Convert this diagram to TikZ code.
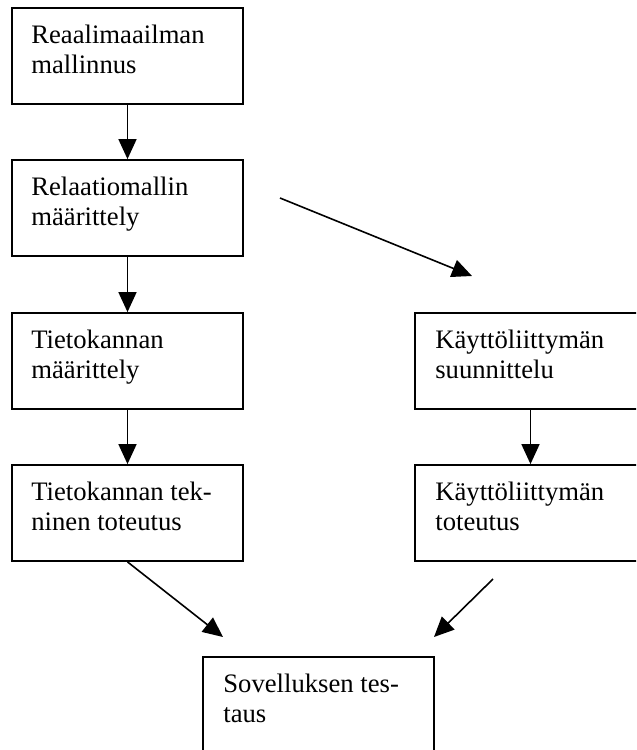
\documentclass[tikz,border=0pt]{standalone}
\usepackage{fontspec}
\setmainfont{Liberation Serif}
\usetikzlibrary{arrows.meta}

\begin{document}
\begin{tikzpicture}[x=0.75pt,y=-0.75pt,
  stagebox/.style={draw, line width=1.35pt, rectangle, inner sep=0pt,
    minimum width=173.25pt, minimum height=72pt},
  stagetext/.style={anchor=north west, inner sep=0pt, align=left,
    font=\fontsize{20pt}{22.5pt}\selectfont},
  flow/.style={line width=1.2pt, -{Triangle[length=15pt,width=13.5pt]}}]

  % page area; the right-hand boxes and the last box run past its edge
  \fill[white] (0,0) rectangle (636,750);
  \clip (0,0) rectangle (636,750);

  % stage boxes
  \node[stagebox] (b1) at (127.5,56) {};
  \node[stagebox] (b2) at (127.5,208) {};
  \node[stagebox] (b3) at (127.5,361) {};
  \node[stagebox] (b4) at (127.5,513) {};
  \node[stagebox] (b5) at (530.5,361) {};
  \node[stagebox] (b6) at (530.5,513) {};
  \node[stagebox] (b7) at (318.5,705) {};

  % box texts
  \node[stagetext] (t1) at ([shift={(20,18)}]b1.north west) {Reaalimaailman\\mallinnus};
  \node[stagetext] (t2) at ([shift={(20,18)}]b2.north west) {Relaatiomallin\\määrittely};
  \node[stagetext] (t3) at ([shift={(20,18)}]b3.north west) {Tietokannan\\määrittely};
  \node[stagetext] (t4) at ([shift={(20,18)}]b4.north west) {Tietokannan tek-\\ninen toteutus};
  \node[stagetext] (t5) at ([shift={(21,18)}]b5.north west) {Käyttöliittymän\\suunnittelu};
  \node[stagetext] (t6) at ([shift={(21,18)}]b6.north west) {Käyttöliittymän\\toteutus};
  \node[stagetext] (t7) at ([shift={(21,18)}]b7.north west) {Sovelluksen tes-\\taus};

  % loose arrow ends
  \coordinate (d1s) at (280,198);
  \coordinate (d1e) at (472,276);
  \coordinate (d2e) at (223,637);
  \coordinate (d3s) at (493,579);
  \coordinate (d3e) at (434,637);

  % connectors
  \draw[flow] (b1.south) -- (b2.north);
  \draw[flow] (b2.south) -- (b3.north);
  \draw[flow] (b3.south) -- (b4.north);
  \draw[flow] (b5.south) -- (b6.north);
  \draw[flow] (d1s) -- (d1e);
  \draw[flow] (b4.south) -- (d2e);
  \draw[flow] (d3s) -- (d3e);
\end{tikzpicture}
\end{document}
